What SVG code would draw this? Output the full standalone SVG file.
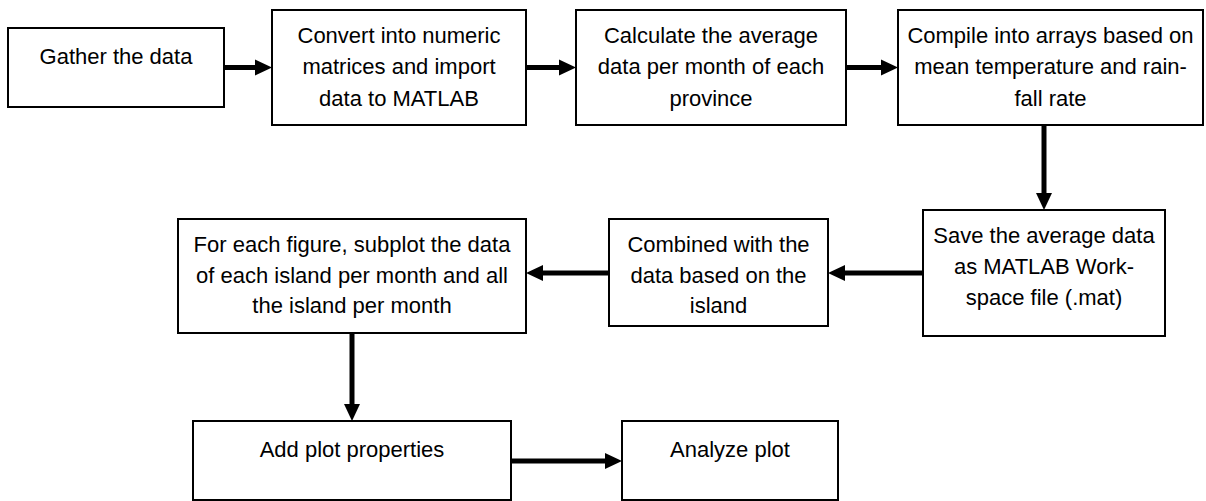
<svg xmlns="http://www.w3.org/2000/svg" width="1206" height="501" viewBox="0 0 1206 501">
<style>
.box{fill:#fff;stroke:#000;stroke-width:2}
.t{font-family:"Liberation Sans",Arial,sans-serif;font-size:22px;fill:#000;text-anchor:middle}
.c{fill:none;stroke:#000;stroke-width:5}
</style>
<defs>
<marker id="ah" markerUnits="userSpaceOnUse" markerWidth="17" markerHeight="17" refX="8" refY="8" orient="auto" viewBox="0 0 17 16">
<path d="M0,0 L17,8 L0,16 z" fill="#000"/>
</marker>
</defs>
<rect width="1206" height="501" fill="#fff"/>
<g id="connectors">
<line class="c" x1="224" y1="67.5" x2="263" y2="67.5" marker-end="url(#ah)"/>
<line class="c" x1="526" y1="67.5" x2="567" y2="67.5" marker-end="url(#ah)"/>
<line class="c" x1="846" y1="67.5" x2="889" y2="67.5" marker-end="url(#ah)"/>
<line class="c" x1="1044" y1="125" x2="1044" y2="201" marker-end="url(#ah)"/>
<line class="c" x1="923" y1="273" x2="837" y2="273" marker-end="url(#ah)"/>
<line class="c" x1="609" y1="273" x2="535" y2="273" marker-end="url(#ah)"/>
<line class="c" x1="352" y1="333" x2="352" y2="412" marker-end="url(#ah)"/>
<line class="c" x1="511" y1="461" x2="613" y2="461" marker-end="url(#ah)"/>
</g>
<g id="n1"><rect class="box" x="8" y="28" width="216" height="79"/><text class="t" x="116" y="64">Gather the data</text></g>
<g id="n2"><rect class="box" x="272" y="10" width="254" height="115"/>
<text class="t" x="399" y="43">Convert into numeric</text>
<text class="t" x="399" y="74">matrices and import</text>
<text class="t" x="399" y="106">data to MATLAB</text></g>
<g id="n3"><rect class="box" x="576" y="10" width="270" height="115"/>
<text class="t" x="711" y="43">Calculate the average</text>
<text class="t" x="711" y="74">data per month of each</text>
<text class="t" x="711" y="106">province</text></g>
<g id="n4"><rect class="box" x="898" y="10" width="305" height="115"/>
<text class="t" x="1050.5" y="43">Compile into arrays based on</text>
<text class="t" x="1050.5" y="74">mean temperature and rain-</text>
<text class="t" x="1050.5" y="106">fall rate</text></g>
<g id="n5"><rect class="box" x="923" y="210" width="242" height="126"/>
<text class="t" x="1044" y="243">Save the average data</text>
<text class="t" x="1044" y="274">as MATLAB Work-</text>
<text class="t" x="1044" y="305">space file (.mat)</text></g>
<g id="n6"><rect class="box" x="609" y="219" width="219" height="107"/>
<text class="t" x="718.5" y="252">Combined with the</text>
<text class="t" x="718.5" y="283">data based on the</text>
<text class="t" x="718.5" y="313">island</text></g>
<g id="n7"><rect class="box" x="178" y="219" width="348" height="114"/>
<text class="t" x="352" y="252">For each figure, subplot the data</text>
<text class="t" x="352" y="283">of each island per month and all</text>
<text class="t" x="352" y="313">the island per month</text></g>
<g id="n8"><rect class="box" x="193" y="421" width="318" height="79"/>
<text class="t" x="352" y="457">Add plot properties</text></g>
<g id="n9"><rect class="box" x="622" y="421" width="216" height="79"/>
<text class="t" x="730" y="457">Analyze plot</text></g>
</svg>
